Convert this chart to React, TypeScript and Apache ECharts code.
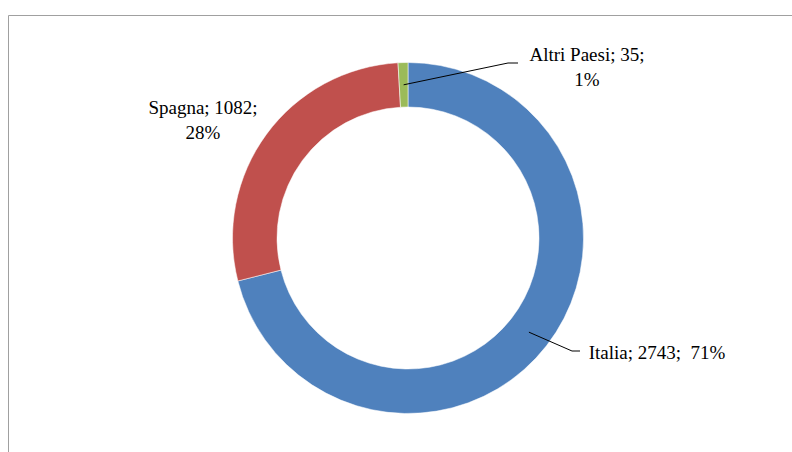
import React, { useEffect, useRef } from 'react';
import * as echarts from 'echarts';

const categories = ['Italia', 'Spagna', 'Altri Paesi'];
const values = [2743, 1082, 35];
const colors = ['#4F81BD', '#C0504D', '#9BBB59'];

export default function App() {
  const ref = useRef<HTMLDivElement>(null);
  useEffect(() => {
    document.body.style.margin = '0';
    const chart = echarts.init(ref.current as HTMLDivElement, null, { renderer: 'svg' });
    const cx = 408;
    const cy = 238;
    const rOut = 175.5;
    const rIn = 131;
    const total = values.reduce((a, b) => a + b, 0);
    const mids: number[] = [];
    let acc = 0;
    values.forEach((v) => {
      mids.push((acc + v / 2) / total);
      acc += v;
    });
    const anchor = (i: number) => {
      const th = ((90 - 360 * mids[i]) * Math.PI) / 180;
      const r = (rOut + rIn) / 2;
      return [cx + r * Math.cos(th), cy - r * Math.sin(th)];
    };
    const labelPos = [
      [657, 352.5],
      [203, 120],
      [587, 67],
    ];
    const elbows: (number[][] | null)[] = [
      [
        [572, 351],
        [580, 351],
      ],
      null,
      [
        [508, 63],
        [518, 63],
      ],
    ];

    const leaderLines: any[] = [];
    elbows.forEach((e, i) => {
      if (!e) return;
      leaderLines.push({
        type: 'polyline',
        z: 100,
        shape: { points: [anchor(i), e[0], e[1]] },
        style: { stroke: '#000000', lineWidth: 1, fill: 'none' },
      });
    });

    chart.setOption({
      animation: false,
      backgroundColor: '#ffffff',
      graphic: [
        {
          type: 'rect',
          z: -1,
          shape: { x: 8.5, y: 15.5, width: 800, height: 450 },
          style: { fill: 'none', stroke: '#a0a0a0', lineWidth: 1 },
        },
        ...leaderLines,
      ],
      series: [
        {
          type: 'pie',
          center: [cx, cy],
          radius: [rIn, rOut],
          startAngle: 90,
          clockwise: true,
          avoidLabelOverlap: false,
          percentPrecision: 0,
          emphasis: { disabled: true },
          itemStyle: { borderColor: 'rgba(255,255,255,0.7)', borderWidth: 0.75 },
          label: {
            show: true,
            position: 'outside',
            fontFamily: "'Liberation Serif', 'Times New Roman', serif",
            fontSize: 19,
            lineHeight: 25,
            color: '#000000',
            formatter: (p: any) =>
              p.dataIndex === 0
                ? `${p.name}; ${p.value};  ${p.percent}%`
                : `${p.name}; ${p.value};\n${p.percent}%`,
          },
          labelLine: { show: false },
          labelLayout: (params: any) => {
            const i = params.dataIndex;
            return {
              x: labelPos[i][0],
              y: labelPos[i][1],
              align: 'center',
              verticalAlign: 'middle',
            };
          },
          data: categories.map((name, i) => ({
            name,
            value: values[i],
            itemStyle: { color: colors[i] },
          })),
        },
      ],
    });
    return () => chart.dispose();
  }, []);
  return <div ref={ref} style={{ width: 792, height: 452 }} />;
}
